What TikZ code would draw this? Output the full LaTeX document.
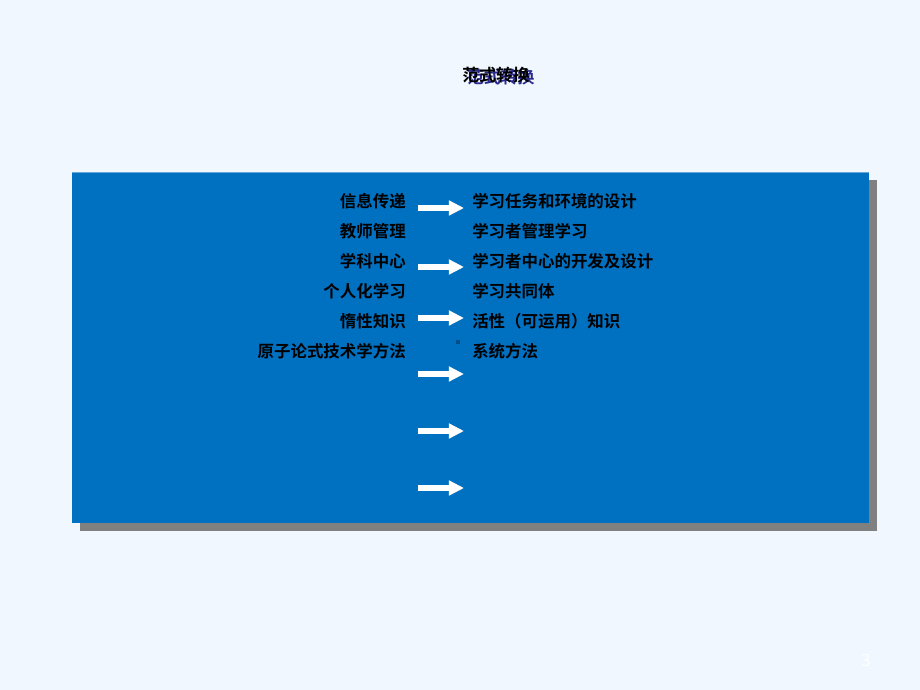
\documentclass[tikz,border=0pt]{standalone}
\usepackage{fontspec}
\setmainfont{Noto Sans CJK SC}
\newfontfamily\cjkbold{Noto Sans CJK SC Bold}
\usepackage{tikz}
\usetikzlibrary{
  positioning,
  arrows.meta
}
\definecolor{pagebg}{HTML}{F0F7FF}
\definecolor{boxblue}{HTML}{0070C0}
\definecolor{boxshadow}{HTML}{808080}
\definecolor{titlenavy}{HTML}{2A2A8F}

\tikzset{
  oldterm/.style={anchor=east,inner sep=0pt,font=\cjkbold\fontsize{11.7}{14}\selectfont},
  newterm/.style={anchor=west,inner sep=0pt,font=\cjkbold\fontsize{11.7}{14}\selectfont},
  shiftarrow/.style={white,line width=3.6pt,-{Triangle[length=0.38cm,width=0.36cm]}}
}

\begin{document}
\begin{tikzpicture}[x=0.025cm,y=-0.025cm]
        \useasboundingbox[fill=pagebg] (0,0) rectangle (920,690);
        % title, printed twice over itself
        \node[font=\cjkbold\fontsize{12}{14}\selectfont] (title) at (496,76)
            {\rlap{\hspace{0.12cm}\raisebox{-0.05cm}{\color{titlenavy}范式转换}}\color{black}范式转换};
        % panel
        \fill[boxshadow] (80,180) rectangle (877,531);
        \fill[boxblue] (72,172) rectangle (869,523);
        \draw[boxblue!60!white,line width=0.4pt] (72,172) -- (869,172);
        % terms
        \node[oldterm] (old1) at (406,201) {信息传递};
        \node[oldterm] (old2) at (406,231) {教师管理};
        \node[oldterm] (old3) at (406,261) {学科中心};
        \node[oldterm] (old4) at (406,291) {个人化学习};
        \node[oldterm] (old5) at (406,321) {惰性知识};
        \node[oldterm] (old6) at (406,351) {原子论式技术学方法};
        \node[newterm] (new1) at (472,201) {学习任务和环境的设计};
        \node[newterm] (new2) at (472,231) {学习者管理学习};
        \node[newterm] (new3) at (472,261) {学习者中心的开发及设计};
        \node[newterm] (new4) at (472,291) {学习共同体};
        \node[newterm] (new5) at (472,321) {活性（可运用）知识};
        \node[newterm] (new6) at (472,351) {系统方法};
        % arrows
        \foreach \i/\y in {1/208,2/267,3/318,4/374,5/431,6/488} {
            \coordinate (from\i) at (418,\y);
            \coordinate (to\i) at (464,\y);
            \draw[shiftarrow] (from\i) -- (to\i);
        }
        \fill[boxblue!70!black] (456,340) rectangle (460,344);
        % page number
        \node[white,font=\fontsize{12}{14}\selectfont] (pagenum) at (866,660) {3};
    \end{tikzpicture}
\end{document}
